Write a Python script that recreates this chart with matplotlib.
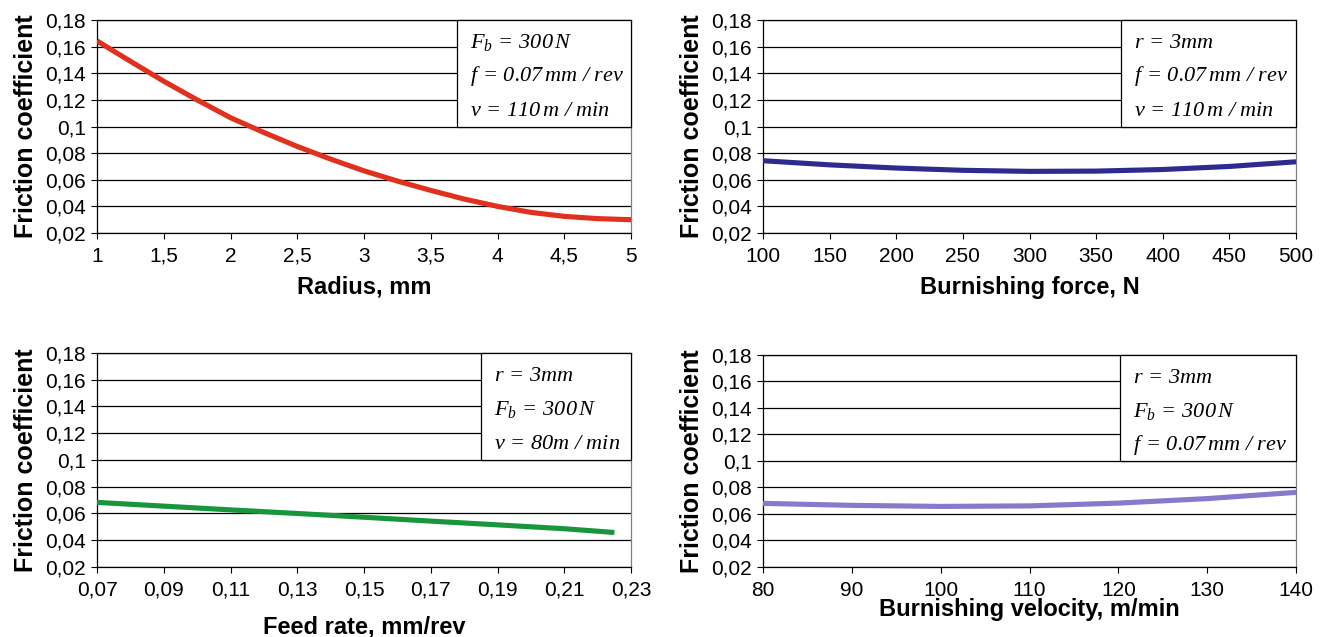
import numpy as np
import matplotlib
matplotlib.use("Agg")
import matplotlib.pyplot as plt
from matplotlib.patches import Rectangle

plt.rcParams['font.family'] = ['Liberation Sans', 'DejaVu Sans']
plt.rcParams['mathtext.fontset'] = 'custom'
plt.rcParams['mathtext.it'] = 'Liberation Serif:italic'
plt.rcParams['mathtext.rm'] = 'Liberation Serif:italic'

# y axis shared by all panels
y_ticks = [0.02, 0.04, 0.06, 0.08, 0.10, 0.12, 0.14, 0.16, 0.18]
y_labels = ['0,02', '0,04', '0,06', '0,08', '0,1', '0,12', '0,14', '0,16', '0,18']

# panel 1: radius
radius = [1, 1.25, 1.5, 1.75, 2, 2.25, 2.5, 2.75, 3, 3.25, 3.5, 3.75, 4, 4.25, 4.5, 4.75, 5]
mu_radius = [0.1643, 0.149, 0.134, 0.120, 0.1066, 0.0955, 0.085, 0.0755, 0.0667,
             0.059, 0.052, 0.0455, 0.040, 0.0355, 0.0325, 0.0308, 0.030]
radius_ticks = [1, 1.5, 2, 2.5, 3, 3.5, 4, 4.5, 5]
radius_labels = ['1', '1,5', '2', '2,5', '3', '3,5', '4', '4,5', '5']

# panel 2: burnishing force
force = [100, 150, 200, 250, 300, 350, 400, 450, 500]
mu_force = [0.0743, 0.0712, 0.0688, 0.0671, 0.0663, 0.0665, 0.0677, 0.0700, 0.0735]
force_ticks = [100, 150, 200, 250, 300, 350, 400, 450, 500]
force_labels = ['100', '150', '200', '250', '300', '350', '400', '450', '500']

# panel 3: feed rate
feed = [0.07, 0.09, 0.11, 0.13, 0.15, 0.17, 0.19, 0.21, 0.225]
mu_feed = [0.0683, 0.0655, 0.0627, 0.0600, 0.0572, 0.0543, 0.0515, 0.0486, 0.0458]
feed_ticks = [0.07, 0.09, 0.11, 0.13, 0.15, 0.17, 0.19, 0.21, 0.23]
feed_labels = ['0,07', '0,09', '0,11', '0,13', '0,15', '0,17', '0,19', '0,21', '0,23']

# panel 4: burnishing velocity
velocity = [80, 90, 100, 110, 120, 130, 140]
mu_velocity = [0.0680, 0.0665, 0.0657, 0.0661, 0.0682, 0.0716, 0.0763]
velocity_ticks = [80, 90, 100, 110, 120, 130, 140]
velocity_labels = ['80', '90', '100', '110', '120', '130', '140']

panels = [
    (radius, mu_radius, radius_ticks, radius_labels, 'Radius, mm', '#e0301e',
     [r'$\mathit{F_b\,=\,300\,N}$', r'$\mathit{f\,=\,0.07\,mm\ /\ rev}$', r'$\mathit{v\,=\,110\,m\ /\ min}$'],
     [0.0731, 0.6342, 0.4025, 0.3344], 0.674, 7),
    (force, mu_force, force_ticks, force_labels, 'Burnishing force, N', '#2e2b8f',
     [r'$\mathit{r\,=\,3mm}$', r'$\mathit{f\,=\,0.07\,mm\ /\ rev}$', r'$\mathit{v\,=\,110\,m\ /\ min}$'],
     [0.5750, 0.6342, 0.4017, 0.3344], 0.671, 7),
    (feed, mu_feed, feed_ticks, feed_labels, 'Feed rate, mm/rev', '#18963c',
     [r'$\mathit{r\,=\,3mm}$', r'$\mathit{F_b\,=\,300\,N}$', r'$\mathit{v\,=\,80m\ /\ min}$'],
     [0.0731, 0.1099, 0.4025, 0.3360], 0.719, 11),
    (velocity, mu_velocity, velocity_ticks, velocity_labels, 'Burnishing velocity, m/min', '#8a78cc',
     [r'$\mathit{r\,=\,3mm}$', r'$\mathit{F_b\,=\,300\,N}$', r'$\mathit{f\,=\,0.07\,mm\ /\ rev}$'],
     [0.5750, 0.1099, 0.4017, 0.3329], 0.670, -1),
]

fig = plt.figure(figsize=(13.27, 6.37), dpi=100)

for x, y, xt, xl, xlabel, color, box_lines, pos, box_x, xpad in panels:
    ax = fig.add_axes(pos)
    ax.set_xlim(xt[0], xt[-1])
    ax.set_ylim(0.02, 0.18)
    ax.set_yticks(y_ticks)
    ax.set_yticklabels(y_labels)
    ax.set_xticks(xt)
    ax.set_xticklabels(xl)
    ax.tick_params(labelsize=15, length=4, width=0.8, color='black')
    ax.tick_params(axis='x', pad=6)
    ax.tick_params(axis='y', pad=4)
    ax.yaxis.grid(True, color='black', linewidth=0.9)
    ax.set_axisbelow(True)
    for s in ['left', 'bottom', 'top']:
        ax.spines[s].set_color('black')
        ax.spines[s].set_linewidth(0.9)
    ax.spines['right'].set_color('#808080')
    ax.spines['right'].set_linewidth(0.9)

    ax.plot(x, y, color=color, linewidth=3.7, solid_capstyle='butt',
            solid_joinstyle='round', zorder=3)

    ax.set_xlabel(xlabel, fontsize=17, fontweight='bold', labelpad=xpad)
    ax.set_ylabel('Friction coefficient', fontsize=18, fontweight='bold', labelpad=5)

    ax.add_patch(Rectangle((box_x, 0.5), 1 - box_x, 0.5, transform=ax.transAxes,
                           facecolor='white', edgecolor='black', linewidth=0.9,
                           zorder=4, clip_on=False))
    for i, t in enumerate(box_lines):
        ax.text(box_x + 0.025, 0.895 - i * 0.16, t, transform=ax.transAxes,
                fontsize=16, va='center', ha='left', zorder=5)

fig.savefig('out.png', dpi=100)
